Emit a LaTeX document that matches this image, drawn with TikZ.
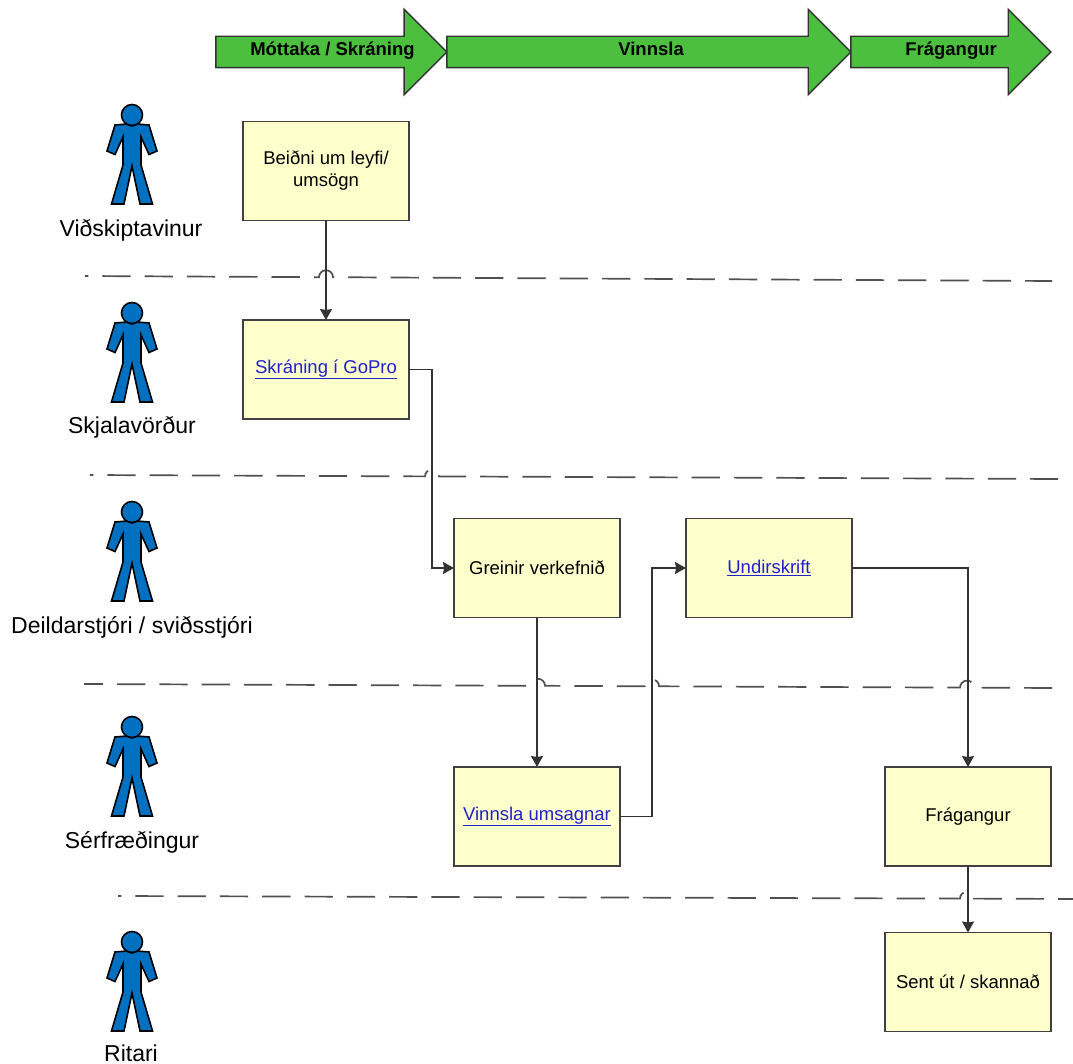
\documentclass[tikz,border=0pt]{standalone}
\usepackage{fontspec}
\setmainfont{Liberation Sans}
\usepackage{xcolor}
\usetikzlibrary{arrows.meta, positioning, shapes.arrows}

\definecolor{boxfill}{HTML}{FFFFCC}
\definecolor{boxline}{HTML}{404040}
\definecolor{phasegreen}{HTML}{4DBF3F}
\definecolor{personblue}{HTML}{0070C0}
\definecolor{linkblue}{HTML}{2020CC}
\definecolor{laneline}{HTML}{505050}

\tikzset{
    every node/.style={outer sep=0pt},
    box/.style={draw=boxline, fill=boxfill, line width=1.6pt, minimum width=166pt, minimum height=99pt, align=center, font=\fontsize{18.5}{22}\selectfont},
    phase/.style={single arrow, draw=black!80, fill=phasegreen, line width=1.4pt, minimum width=84pt, single arrow head extend=27pt, single arrow tip angle=90, inner xsep=2pt, inner ysep=8pt, text height=11pt, text depth=3pt, font=\fontsize{18.5}{20}\selectfont\bfseries},
    role/.style={font=\fontsize{23}{26}\selectfont},
    lane/.style={draw=laneline, line width=1.7pt, dash pattern=on 28.3pt off 14pt},
    conn/.style={-{Stealth[length=11pt, width=12pt, inset=1pt]}, draw=black!80, line width=1.4pt},
    person/.pic={
        \draw[fill=personblue, line width=1.6pt] (-17,10) -- (-5,9) -- (0,11) -- (5,9) -- (17,10) -- (25,36) -- (17,39.5) -- (9,22) -- (9,50) -- (20.5,89) -- (8,89) -- (0,51) -- (-8,89) -- (-20.5,89) -- (-9,50) -- (-9,22) -- (-17,39.5) -- (-25,36) -- cycle;
        \draw[fill=personblue, line width=1.6pt] (0,0) circle (10.5);
    }
}
\newcommand{\link}[1]{\textcolor{linkblue}{\underline{#1}}}

\begin{document}
\begin{tikzpicture}[x=1pt, y=-1pt, node distance=198.5pt]
    \useasboundingbox (0,0) rectangle (1073,1064);
    % phases
    \node[phase, minimum height=231pt] (mottaka) at (323.5,52) {\hspace{18pt}M\'ottaka / Skr\'aning};
    \node[phase, minimum height=404pt, right=0pt of mottaka] (vinnsla) {\hspace{20pt}Vinnsla};
    \node[phase, minimum height=200pt, right=0pt of vinnsla] (fragangur) {\hspace{16pt}Fr\'agangur};
    % roles
    \pic at (132,115) {person};
    \pic at (132,313) {person};
    \pic at (132,512) {person};
    \pic at (132,727) {person};
    \pic at (132,942) {person};
    \node[role] (vidskipta) at (131,230) {Viðskiptavinur};
    \node[role] (skjala) at (132,427) {Skjalavörður};
    \node[role] (deildar) at (132,627) {Deildarstjóri / sviðsstjóri};
    \node[role] (serfraedingur) at (132,842) {Sérfræðingur};
    \node[role] (ritari) at (131,1053) {Ritari};
    % steps
    \node[box] (beidni) at (326,171) {Beiðni um leyfi/\\umsögn};
    \node[box] (skraning) [below of=beidni] {\link{Skráning í GoPro}};
    \node[box] (greinir) at (537,568) {Greinir verkefnið};
    \node[box] (undirskrift) [right of=greinir, node distance=232pt] {\link{Undirskrift}};
    \node[box] (umsagnar) [below of=greinir, node distance=248.5pt] {\link{Vinnsla umsagnar}};
    \node[box] (fragbox) at (968,816.5) {Frágangur};
    \node[box] (sent) [below of=fragbox, node distance=165.5pt] {Sent út / skannað};
    % lanes
    \coordinate (laneAa) at (85,276);
    \coordinate (laneAb) at (1052,281);
    \coordinate (laneBa) at (90,475);
    \coordinate (laneBb) at (1058,479);
    \coordinate (laneCa) at (84,684);
    \coordinate (laneCb) at (1052,688);
    \coordinate (laneDa) at (118,896);
    \coordinate (laneDb) at (1073,899);
    \draw[lane, dash phase=25pt] (laneAa) -- (319,277.2) arc (180:360:7) -- (laneAb);
    \draw[lane, dash phase=25pt] (laneBa) -- (425,476.4) arc (180:360:7) -- (laneBb);
    \draw[lane, dash phase=9.3pt] (laneCa) -- (531,685.8) arc (180:360:7) -- (645,686.3) arc (180:360:7) -- (960,687.6) arc (180:360:7) -- (laneCb);
    \draw[lane, dash phase=25pt] (laneDa) -- (960,898.6) arc (180:360:7) -- (laneDb);
    % connectors
    \coordinate (bendA) at (432,470);
    \coordinate (bendB) at (652,690);
    \draw[conn] (beidni) -- (skraning);
    \draw[conn] (skraning.east) -| (bendA) |- (greinir.west);
    \draw[conn] (greinir) -- (umsagnar);
    \draw[conn] (umsagnar.east) -| (bendB) |- (undirskrift.west);
    \draw[conn] (undirskrift.east) -| (fragbox.north);
    \draw[conn] (fragbox) -- (sent);
\end{tikzpicture}
\end{document}
